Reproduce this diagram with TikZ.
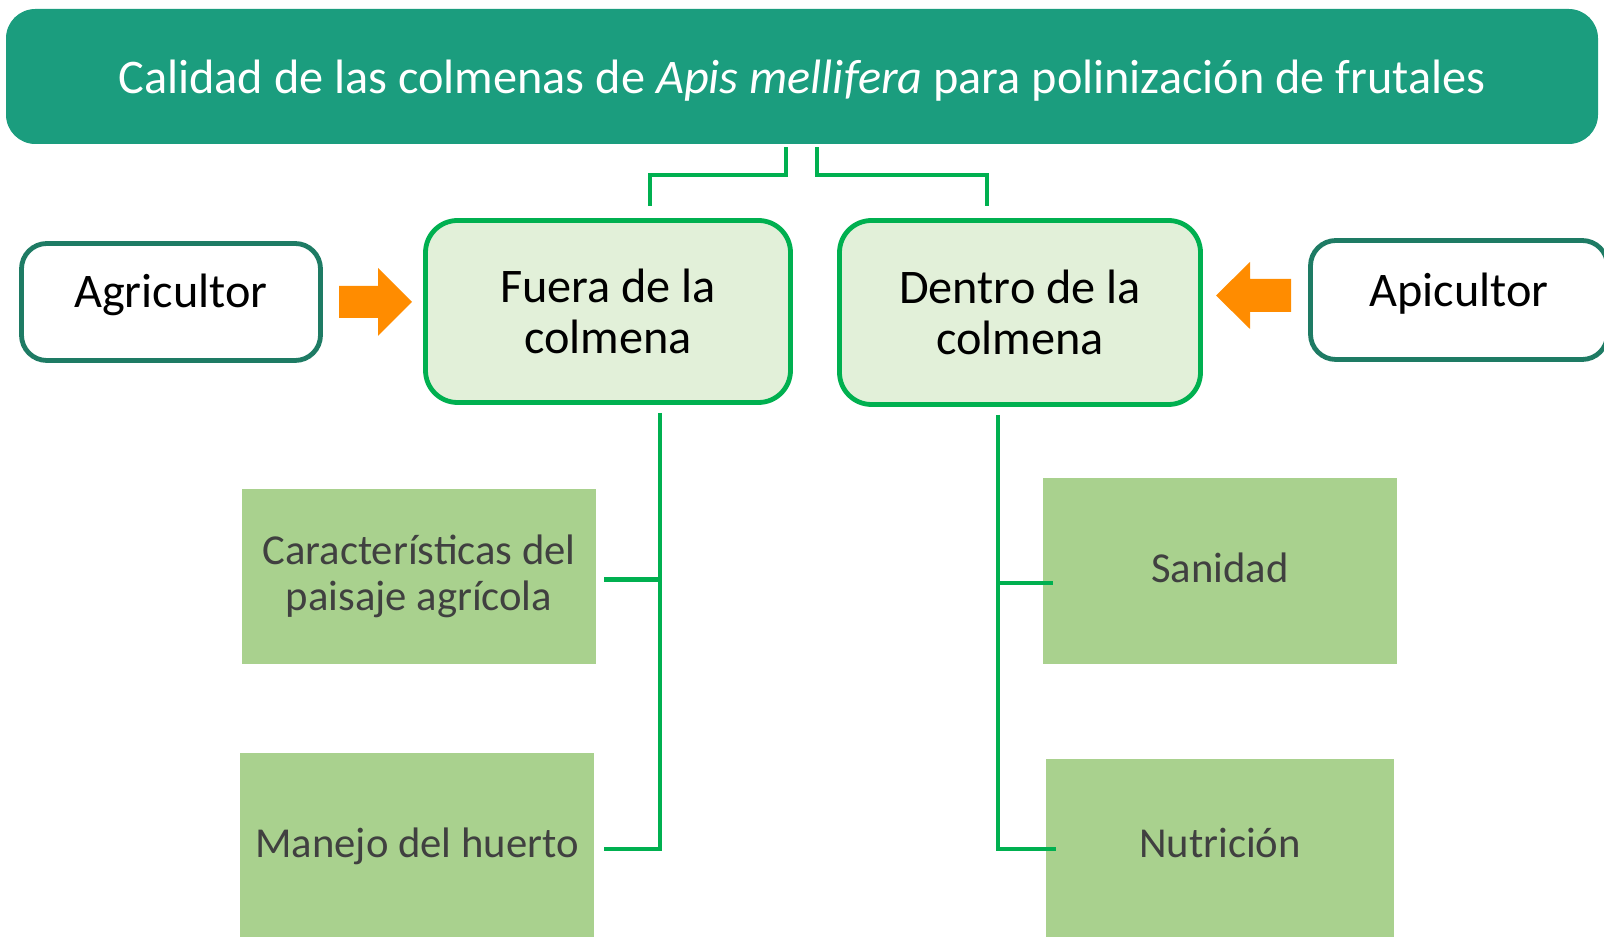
\documentclass[tikz,border=0pt]{standalone}
\usepackage{fontspec}
\setmainfont{Carlito}
\usetikzlibrary{calc}
\definecolor{titleteal}{RGB}{27,157,126}
\definecolor{darkteal}{RGB}{30,123,100}
\definecolor{linegreen}{RGB}{0,176,80}
\definecolor{palegreen}{RGB}{226,240,217}
\definecolor{leafgreen}{RGB}{169,209,142}
\definecolor{arrorange}{RGB}{255,140,0}
\definecolor{greytext}{RGB}{64,64,64}

\begin{document}
\begin{tikzpicture}[x=0.75pt, y=-0.75pt,
  bigtext/.style={font=\fontsize{36.2}{38.5}\selectfont, align=center, inner sep=0pt},
  actor/.style={bigtext, draw=darkteal, line width=3.6pt, fill=white, rounded corners=19pt},
  place/.style={bigtext, draw=linegreen, line width=3.6pt, fill=palegreen, rounded corners=24pt},
  factor/.style={font=\fontsize{32}{34.5}\selectfont, align=center, inner sep=0pt,
    fill=leafgreen, text=greytext, minimum width=265.5pt},
  oneline/.style={text height=#1, text depth=0pt},
  conn/.style={draw=linegreen, line width=3.6pt},
  thinconn/.style={draw=linegreen, line width=3.2pt}]
\useasboundingbox (0,0) rectangle (1604,937);

\node[bigtext, oneline=25.2pt, fill=titleteal, text=white, rounded corners=22pt,
  minimum width=1194pt, minimum height=101.25pt] (title) at (802,76.5)
  {Calidad de las colmenas de \textit{Apis mellifera} para polinización de frutales};

\node[place, minimum width=273.75pt, minimum height=136.5pt] (fuera) at (608,311.5) {Fuera de la\\colmena};
\node[place, minimum width=270.75pt, minimum height=138pt] (dentro) at (1020,312.5) {Dentro de la\\colmena};
\node[actor, oneline=9pt, minimum width=224.25pt, minimum height=87.75pt] (agricultor) at (171,302) {Agricultor};
\node[actor, oneline=10pt, minimum width=222.75pt, minimum height=89.25pt] (apicultor) at (1459,300) {Apicultor};

\node[factor, minimum height=131.25pt] (caract) at (419,576.5) {Características del\\paisaje agrícola};
\node[factor, oneline=18pt, minimum height=138pt] (manejo) at (417,845) {Manejo del huerto};
\node[factor, oneline=18pt, minimum height=139.5pt] (sanidad) at (1220,571) {Sanidad};
\node[factor, oneline=13.5pt, minimum width=261pt, minimum height=133.5pt] (nutricion) at (1220,848) {Nutrición};

\fill[arrorange] (339,286) -- (378,286) -- (378,268) -- (412,302) -- (378,336) -- (378,318) -- (339,318) -- cycle;
\fill[arrorange] (1291,279) -- (1250,279) -- (1250,262) -- (1216,295.5) -- (1250,329) -- (1250,312) -- (1291,312) -- cycle;

\draw[thinconn] ($(title.south)+(-16,3)$) |- ($(fuera.north)+(42,-43)$) -- ($(fuera.north)+(42,-12)$);
\draw[thinconn] ($(title.south)+(15,3)$) |- ($(dentro.north)+(-33,-43)$) -- ($(dentro.north)+(-33,-12)$);

\coordinate (ltrunk) at ($(fuera.south)+(52,8)$);
\coordinate (rtrunk) at ($(dentro.south)+(-22,8)$);
\draw[conn] (ltrunk) |- ($(manejo.east)+(10,4)$);
\draw[conn] ($(caract.east)+(8,3)$) -| (ltrunk);
\draw[conn] (rtrunk) |- ($(nutricion.west)+(10,1)$);
\draw[conn] ($(sanidad.west)+(10,12)$) -| (rtrunk);
\end{tikzpicture}
\end{document}
